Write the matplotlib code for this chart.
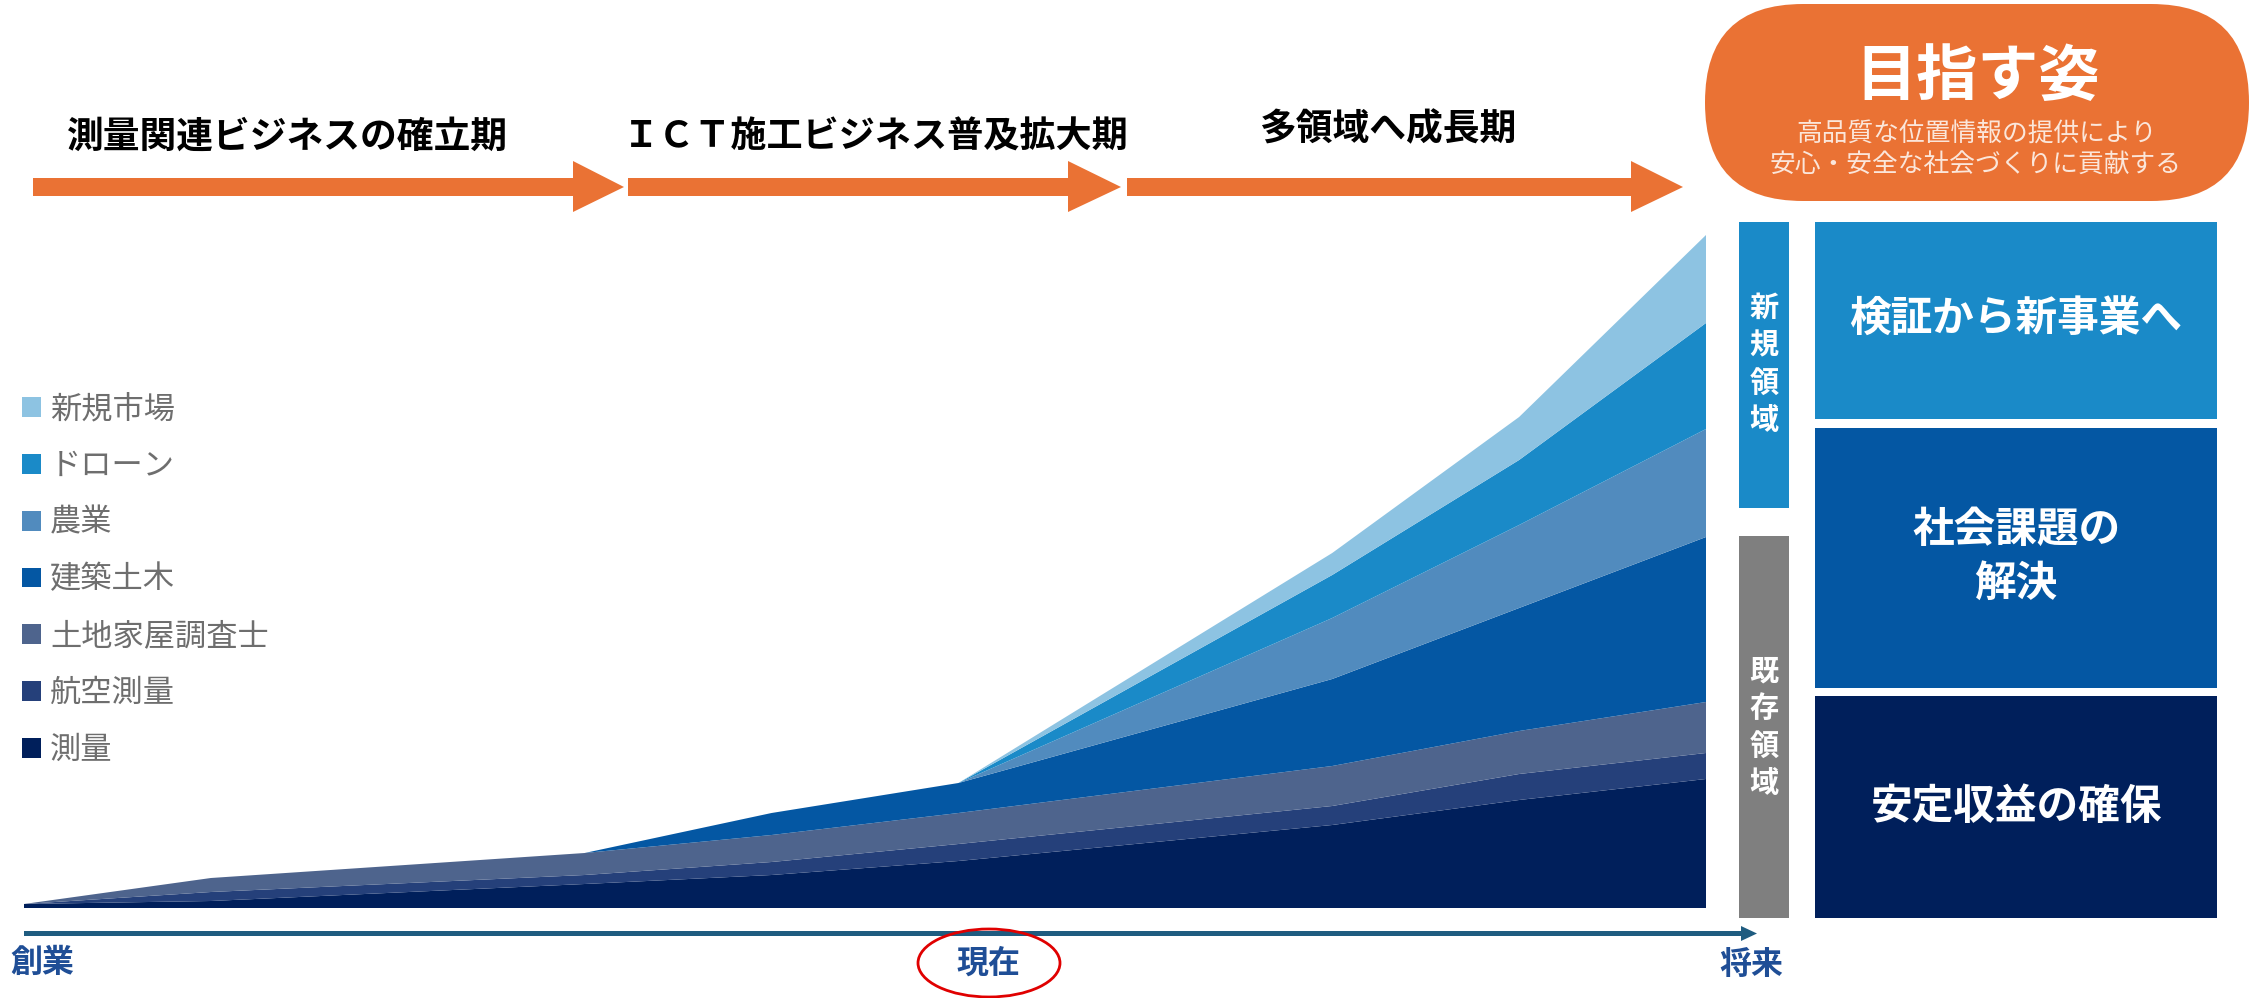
import matplotlib.pyplot as plt
from matplotlib.patches import Polygon, Rectangle, FancyBboxPatch, Ellipse

plt.rcParams['font.family'] = ['Noto Sans CJK JP', 'DejaVu Sans']

# timeline positions (創業 = 0, 現在 ≈ 5, 将来 = 9)
timeline = [0, 1, 3, 4, 5, 7, 8, 9]

# business segments, bottom to top
segments = ['測量', '航空測量', '土地家屋調査士', '建築土木', '農業', 'ドローン', '新規市場']
sokuryo = [4, 7, 24, 33, 47, 83, 108, 129]
koku = [0, 9, 9, 13, 17, 19, 26, 26]
tochi = [0, 14, 22, 27, 31, 40, 43, 51]
kenchiku = [0, 0, 0, 22, 30, 87, 123, 165]
nogyo = [0, 0, 0, 0, 0, 61, 83, 108]
drone = [0, 0, 0, 0, 0, 43, 65, 106]
shinki = [0, 0, 0, 0, 0, 22, 43, 88]
colors = ['#001F5B', '#25407A', '#4E648D', '#0457A3', '#518BBE', '#1A8AC8', '#8DC3E2']

phases = ['測量関連ビジネスの確立期', 'ＩＣＴ施工ビジネス普及拡大期', '多領域へ成長期']
goal_title = '目指す姿'
goal_text = ['高品質な位置情報の提供により', '安心・安全な社会づくりに貢献する']
goals = ['検証から新事業へ', '社会課題の\n解決', '安定収益の確保']
axis_labels = ['創業', '現在', '将来']

W, H = 2256, 998
fig = plt.figure(figsize=(W / 100, H / 100), dpi=100)

# stacked area chart
ax = fig.add_axes([24 / W, 90 / H, 1682 / W, 674 / H])
polys = ax.stackplot(timeline, sokuryo, koku, tochi, kenchiku, nogyo, drone, shinki,
                     colors=colors, labels=segments, linewidth=0)
ax.set_xlim(0, 9)
ax.set_ylim(0, 674)
ax.axis('off')

leg = fig.legend(polys[::-1], segments[::-1], loc='upper left',
                 bbox_to_anchor=(22 / W, 1 - 393 / H), frameon=False,
                 fontsize=22.5, handlelength=0.6, handleheight=0.6,
                 handletextpad=0.3, labelspacing=0.795, borderpad=0, borderaxespad=0)
for t in leg.get_texts():
    t.set_color('#6E6E6E')

# overlay in pixel units for the decorations
ov = fig.add_axes([0, 0, 1, 1])
ov.set_xlim(0, W)
ov.set_ylim(H, 0)
ov.axis('off')

orange = '#EA7234'


def block_arrow(x0, x1, tip):
    pts = [(x0, 178), (x1, 178), (x1, 161), (tip, 187), (x1, 212), (x1, 196), (x0, 196)]
    ov.add_patch(Polygon(pts, closed=True, color=orange, lw=0))


block_arrow(33, 573, 624)
block_arrow(628, 1068, 1121)
block_arrow(1127, 1631, 1683)

ov.text(287, 137, phases[0], ha='center', va='center', fontsize=26.5, fontweight='bold')
ov.text(876, 137, phases[1], ha='center', va='center', fontsize=26, fontweight='bold')
ov.text(1388, 130, phases[2], ha='center', va='center', fontsize=26.5, fontweight='bold')

# goal badge
ov.add_patch(FancyBboxPatch((1705, 4), 544, 197, boxstyle='round,pad=0,rounding_size=98',
                            color=orange, lw=0))
ov.text(1978, 77, goal_title, ha='center', va='center', fontsize=44, fontweight='bold',
        color='white')
ov.text(1977, 135, goal_text[0], ha='center', va='center', fontsize=18.5, color='#FBE6DA')
ov.text(1976, 165, goal_text[1], ha='center', va='center', fontsize=18.5, color='#FBE6DA')

# domain side bars
ov.add_patch(Rectangle((1739, 222), 50, 286, color='#1A8AC8', lw=0))
ov.add_patch(Rectangle((1739, 536), 50, 382, color='#7F7F7F', lw=0))
ov.text(1764, 364, '新\n規\n領\n域', ha='center', va='center', fontsize=21,
        fontweight='bold', color='white', linespacing=1.3)
ov.text(1764, 727, '既\n存\n領\n域', ha='center', va='center', fontsize=21,
        fontweight='bold', color='white', linespacing=1.3)

# goal boxes
box_rows = [(222, 197, '#1A8AC8', 320), (428, 260, '#0457A3', 557), (696, 222, '#001F5B', 807)]
for (top, h, c, ty), label in zip(box_rows, goals):
    ov.add_patch(Rectangle((1815, top), 402, h, color=c, lw=0))
    ov.text(2016, ty, label, ha='center', va='center', fontsize=30, fontweight='bold',
            color='white', linespacing=1.35)

# time axis
axis_blue = '#1F5C80'
ov.add_patch(Rectangle((24, 931), 1718, 5, color=axis_blue, lw=0))
ov.add_patch(Polygon([(1741, 926), (1757, 933.5), (1741, 941)], closed=True,
                     color=axis_blue, lw=0))
label_blue = '#1F4E96'
ov.text(42, 963, axis_labels[0], ha='center', va='center', fontsize=23, fontweight='bold',
        color=label_blue)
ov.text(989, 964, axis_labels[1], ha='center', va='center', fontsize=23, fontweight='bold',
        color=label_blue)
ov.text(1751, 965, axis_labels[2], ha='center', va='center', fontsize=23, fontweight='bold',
        color=label_blue)
ov.add_patch(Ellipse((989, 963), 142, 68, fill=False, edgecolor='#E00000', lw=2))

fig.savefig('out.png', dpi=100)
